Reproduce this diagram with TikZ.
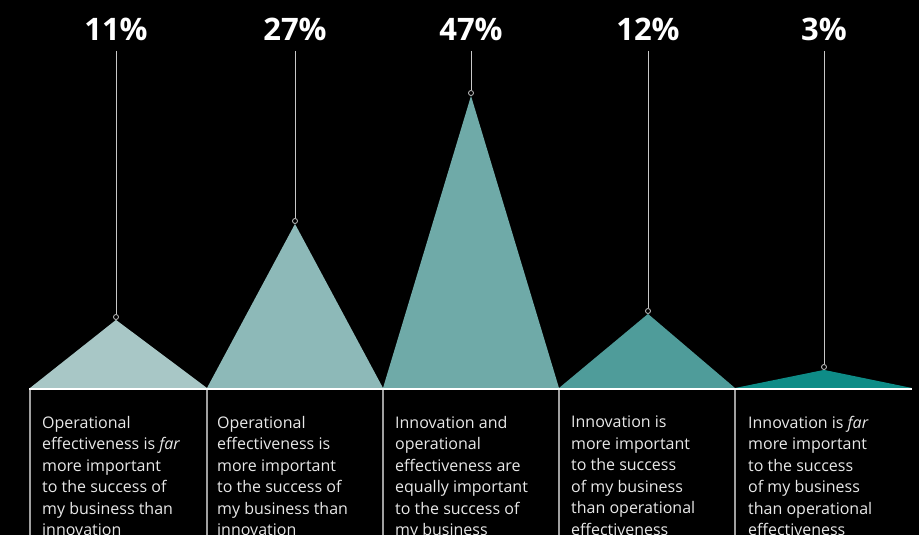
\documentclass[tikz,border=0pt]{standalone}
\usepackage{fontspec}
\setmainfont{Open Sans}
\usetikzlibrary{positioning}
\usetikzlibrary{calc}
\definecolor{triA}{HTML}{A8C7C6}
\definecolor{triB}{HTML}{8DB9B8}
\definecolor{triC}{HTML}{6FAAA8}
\definecolor{triD}{HTML}{4F9C9A}
\definecolor{triE}{HTML}{0E8C87}
\definecolor{stemgray}{HTML}{C8C8C8}
\definecolor{rulegray}{HTML}{A0A0A0}
\definecolor{bodytext}{HTML}{E8E8E8}
\tikzset{
	every node/.style={inner sep=0pt},
	pct/.style={text=white, font=\bfseries\fontsize{31}{31}\selectfont, anchor=base, text depth=0pt, outer sep=10pt},
	answer/.style={text=bodytext, font=\fontsize{16}{21.5}\selectfont, align=left, anchor=north west},
	stem/.style={draw=stemgray, line width=1pt},
	knob/.style={circle, draw=stemgray, fill=black, line width=0.8pt, minimum size=5pt, node contents={}},
	divider/.style={draw=rulegray, line width=1.5pt},
	ground/.style={draw=white, line width=2.5pt}
}

\begin{document}
\begin{tikzpicture}[x=1pt, y=-1pt]
			% Background
			\fill[black] (0,0) rectangle (919,535);
			\useasboundingbox (0,0) rectangle (919,535);

			% Percentages
			\node (p1) at (116,41) [pct] {11\%};
			\node (p2) at (295,41) [pct] {27\%};
			\node (p3) at (471,41) [pct] {47\%};
			\node (p4) at (648,41) [pct] {12\%};
			\node (p5) at (824,41) [pct] {3\%};

			\node (k1) at (116,317) [knob];
			\node (k2) at (295,221) [knob];
			\node (k3) at (471,93) [knob];
			\node (k4) at (648,311) [knob];
			\node (k5) at (824,367) [knob];

			% Triangles
			\fill[triA] (30,388) -- (k1.south) -- (207,388) -- cycle;
			\fill[triB] (207,388) -- (k2.south) -- (383,388) -- cycle;
			\fill[triC] (383,388) -- (k3.south) -- (559,388) -- cycle;
			\fill[triD] (559,388) -- (k4.south) -- (735,388) -- cycle;
			\fill[triE] (735,388) -- (k5.south) -- (912,388) -- cycle;

			\path (p1) edge[stem] (k1);
			\path (p2) edge[stem] (k2);
			\path (p3) edge[stem] (k3);
			\path (p4) edge[stem] (k4);
			\path (p5) edge[stem] (k5);

			% Columns
			\draw[divider] (30,389) -- (30,540);
			\draw[divider] (207,389) -- (207,540);
			\draw[divider] (383,389) -- (383,540);
			\draw[divider] (559,389) -- (559,540);
			\draw[divider] (735,389) -- (735,540);
			\draw[ground] (29,389) -- (912,389);

			% Answers
			\node (t1) at (42,416) [answer] {Operational\\effectiveness is \textit{far}\\more important\\to the success of\\my business than\\innovation};
			\node (t2) at (217,416) [answer] {Operational\\effectiveness is\\more important\\to the success of\\my business than\\innovation};
			\node (t3) at (395,416) [answer] {Innovation and\\operational\\effectiveness are\\equally important\\to the success of\\my business};
			\node (t4) at (571,416) [answer] {Innovation is\\more important\\to the success\\of my business\\than operational\\effectiveness};
			\node (t5) at (748,416) [answer] {Innovation is \textit{far}\\more important\\to the success\\of my business\\than operational\\effectiveness};

		\end{tikzpicture}
\end{document}
